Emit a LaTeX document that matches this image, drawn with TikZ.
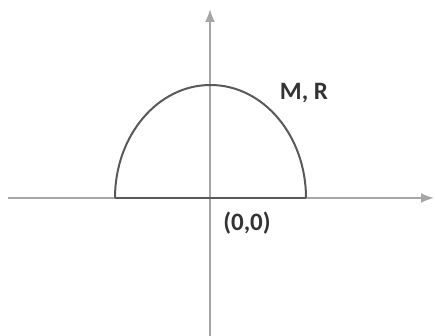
\documentclass[tikz,border=0pt]{standalone}
\usepackage{fontspec}
\setmainfont{Carlito}
\usetikzlibrary{arrows.meta}

\begin{document}
\begin{tikzpicture}[x=0.5pt, y=-0.5pt, >={Latex[length=6.5pt,width=5pt]}]
  % canvas 435 x 336 px, origin of the axes at (210,198)
  \useasboundingbox (0,0) rectangle (435,336);
  \coordinate (O) at (210,198);

  % Axes
  \draw[->, line width=1pt, gray!70] (8,198) -- (434,198);
  \draw[->, line width=1pt, gray!70] (210,336) -- (210,9);

  % Half body of mass M, radius R
  \draw[line width=1pt, black!65] (115,198) arc[start angle=180, end angle=0, x radius=95.5, y radius=-113];
  \draw[line width=1.3pt, black!65] (115,198) -- (306,198);

  % Labels
  \node[font=\fontsize{12.5}{14}\selectfont\bfseries, text=black!80] (mr) at (304,93) {M, R};
  \node[font=\fontsize{12.5}{14}\selectfont\bfseries, text=black!80] (orig) at (247,223) {(0,0)};
\end{tikzpicture}
\end{document}
